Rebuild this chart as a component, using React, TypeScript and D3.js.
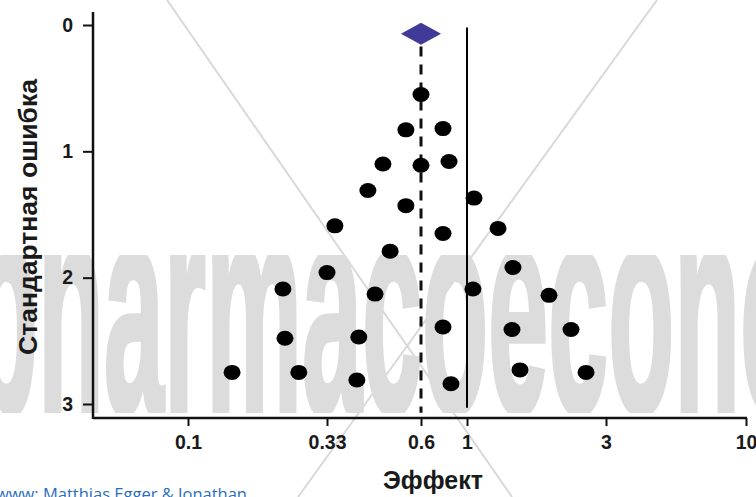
import React, { useEffect, useRef } from 'react';
import * as d3 from 'd3';

// study estimates (effect, standard error) read off the funnel
const effects = [
  0.6, 0.545, 0.766, 0.471, 0.6, 0.819, 0.428, 0.545, 0.347, 0.766,
  1.057, 1.278, 0.493, 0.33, 1.438, 0.226, 0.448, 1.048, 1.912, 0.23,
  0.404, 0.766, 1.427, 2.275, 0.146, 0.259, 0.399, 1.52, 2.562, 0.837
];
const stdErrors = [
  0.55, 0.83, 0.82, 1.1, 1.11, 1.08, 1.31, 1.43, 1.59, 1.65,
  1.37, 1.61, 1.79, 1.96, 1.92, 2.09, 2.13, 2.09, 2.14, 2.48,
  2.47, 2.39, 2.41, 2.41, 2.75, 2.75, 2.81, 2.73, 2.75, 2.84
];
const xTickValues = [0.1, 0.33, 0.6, 1, 3, 10];
const xTickLabels = ['0.1', '0.33', '0.6', '1', '3', '10'];
const yTickValues = [0, 1, 2, 3];
const pooledEffect = 0.6;
const pooledSE = 0.07;
const nullEffect = 1;

const W = 756;
const H = 497;

export default function App() {
  const ref = useRef<SVGSVGElement | null>(null);

  useEffect(() => {
    const svg = d3.select(ref.current);
    svg.selectAll('*').remove();

    // the original axis is log but with uneven tick spacing, so pin each tick
    const x = d3.scaleLog().domain(xTickValues).range([188, 327, 421, 467, 606, 746]);
    const y = d3.scaleLinear().domain([0, 3]).range([25, 404]);
    const axisX = 93;
    const axisY = 418;
    const font = "'Liberation Sans', Arial, sans-serif";

    // background watermark
    const wm = svg.append('g');
    const clip = svg.append('defs').append('clipPath').attr('id', 'wmclip');
    clip.append('rect').attr('x', 0).attr('y', 255).attr('width', W).attr('height', 158);
    wm.append('line').attr('x1', 167).attr('y1', 0).attr('x2', 512).attr('y2', 497)
      .attr('stroke', '#d9d9d9').attr('stroke-width', 2);
    wm.append('line').attr('x1', 657).attr('y1', 0).attr('x2', 298).attr('y2', 497)
      .attr('stroke', '#d9d9d9').attr('stroke-width', 2);
    wm.append('g').attr('clip-path', 'url(#wmclip)')
      .append('text')
      .attr('transform', 'translate(-28,412) scale(0.36,1)')
      .attr('font-family', font)
      .attr('font-size', 300)
      .attr('font-weight', 'bold')
      .attr('fill', '#dcdcdc')
      .attr('stroke', '#dcdcdc')
      .attr('stroke-width', 6)
      .text('pharmacoeconomics');

    // axes
    svg.append('line').attr('x1', axisX).attr('x2', axisX).attr('y1', 12).attr('y2', axisY + 1)
      .attr('stroke', '#111').attr('stroke-width', 2.5);
    svg.append('line').attr('x1', axisX).attr('x2', 747).attr('y1', axisY).attr('y2', axisY)
      .attr('stroke', '#111').attr('stroke-width', 2.5);

    const xAxis = d3.axisBottom(x)
      .tickValues(xTickValues)
      .tickFormat((d, i) => xTickLabels[i])
      .tickSize(8)
      .tickPadding(9);
    const gx = svg.append('g').attr('transform', `translate(0,${axisY})`).call(xAxis);
    gx.select('.domain').remove();

    const yAxis = d3.axisLeft(y).tickValues(yTickValues).tickFormat(d3.format('d')).tickSize(10).tickPadding(10);
    const gy = svg.append('g').attr('transform', `translate(${axisX},0)`).call(yAxis);
    gy.select('.domain').remove();

    svg.selectAll('.tick line').attr('stroke', '#111').attr('stroke-width', 2);
    svg.selectAll('.tick text')
      .attr('font-family', font)
      .attr('font-size', 19.5)
      .attr('font-weight', 'bold')
      .attr('fill', '#1a1a1a');

    // titles
    svg.append('text')
      .attr('x', 433).attr('y', 489)
      .attr('text-anchor', 'middle')
      .attr('font-family', font).attr('font-size', 25).attr('font-weight', 'bold')
      .attr('fill', '#1a1a1a')
      .text('Эффект');
    svg.append('text')
      .attr('transform', 'translate(37,217) rotate(-90)')
      .attr('text-anchor', 'middle')
      .attr('font-family', font).attr('font-size', 25).attr('font-weight', 'bold')
      .attr('fill', '#1a1a1a')
      .attr('textLength', 276)
      .attr('lengthAdjust', 'spacingAndGlyphs')
      .text('Стандартная ошибка');

    // reference lines
    svg.append('line')
      .attr('x1', x(nullEffect)).attr('x2', x(nullEffect))
      .attr('y1', y(0.02)).attr('y2', y(3.03))
      .attr('stroke', '#000').attr('stroke-width', 2);
    svg.append('line')
      .attr('x1', x(pooledEffect)).attr('x2', x(pooledEffect))
      .attr('y1', y(0.17)).attr('y2', y(3.07))
      .attr('stroke', '#111').attr('stroke-width', 3)
      .attr('stroke-dasharray', '10,8');

    // pooled estimate diamond
    const cx = x(pooledEffect);
    const cy = y(pooledSE);
    svg.append('path')
      .attr('d', `M${cx - 20},${cy}L${cx},${cy - 11}L${cx + 20},${cy}L${cx},${cy + 11}Z`)
      .attr('fill', '#403a98');

    // studies
    svg.append('g')
      .selectAll('ellipse')
      .data(effects)
      .enter()
      .append('ellipse')
      .attr('cx', (d) => x(d))
      .attr('cy', (d, i) => y(stdErrors[i]))
      .attr('rx', 8.5)
      .attr('ry', 7.5)
      .attr('fill', '#000');

    // source note, cut by the bottom edge
    svg.append('text')
      .attr('x', -4).attr('y', 500)
      .attr('font-family', "'Open Sans', sans-serif").attr('font-size', 16.5)
      .attr('fill', '#2a6ebb')
      .text('www: Matthias Egger & Jonathan');
  }, []);

  return (
    <svg
      ref={ref}
      width={W}
      height={H}
      style={{ position: 'absolute', left: 0, top: 0, background: '#fff' }}
    />
  );
}
